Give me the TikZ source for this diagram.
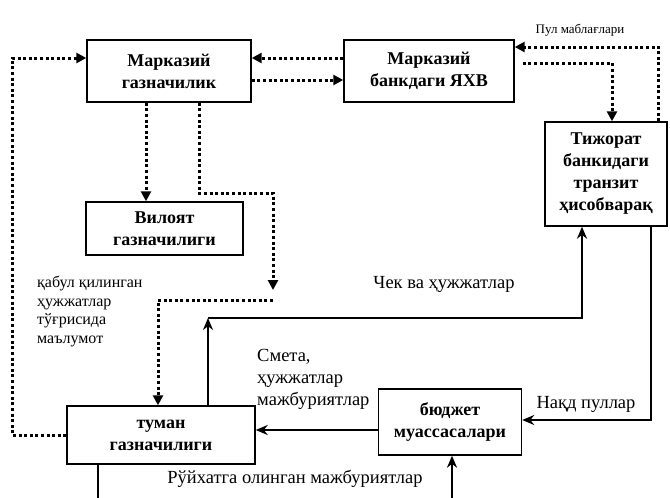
\documentclass[tikz,border=0pt]{standalone}
\usepackage{fontspec}
\setmainfont{Liberation Serif}
\usetikzlibrary{arrows.meta}

\tikzset{
  box/.style={draw, line width=1.4pt, align=center, inner sep=0pt,
    font=\fontsize{18}{22}\selectfont\bfseries},
  lbl/.style={inner sep=0pt, font=\fontsize{18.5}{22}\selectfont},
  dotarrow/.style={line width=3pt, dash pattern=on 3pt off 2.6pt,
    -{Triangle[length=10pt,width=10pt]}},
  solidline/.style={line width=2.2pt},
  solidarrow/.style={line width=2.2pt, -{Stealth[length=12pt,width=10pt]}},
}

\begin{document}
\begin{tikzpicture}[x=1pt,y=-1pt]
\useasboundingbox (0,0) rectangle (670,498);

\node[box, minimum width=164pt, minimum height=62pt] (mg) at (169,71) {Марказий\\газначилик};
\node[box, minimum width=170pt, minimum height=62pt] (bank) at (429,71) {Марказий\\банкдаги ЯХВ};
\node[box, minimum width=122pt, minimum height=104pt] (tij) at (606,174) {Тижорат\\банкидаги\\транзит\\ҳисобварақ};
\node[box, minimum width=157pt, minimum height=53pt] (vil) at (164.5,228.5) {Вилоят\\газначилиги};
\node[box, minimum width=188pt, minimum height=58pt] (tuman) at (161,435) {туман\\газначилиги};
\node[box, minimum width=143pt, minimum height=66pt] (budget) at (450,422) {бюджет\\муассасалари};

\node[lbl, font=\fontsize{13}{15}\selectfont] (pul) at (580,30) {Пул маблағлари};
\node[lbl] (chek) at (444,284) {Чек ва ҳужжатлар};
\node[lbl, align=left, anchor=north west, font=\fontsize{16}{18.5}\selectfont] (info) at (37,276) {қабул қилинган\\ҳужжатлар\\тўғрисида\\маълумот};
\node[lbl, align=left, anchor=north west] (smeta) at (257,349) {Смета,\\ҳужжатлар\\мажбуриятлар};
\node[lbl] (naqd) at (586,404) {Нақд пуллар};
\node[lbl] (ruyxat) at (295,479) {Рўйхатга олинган мажбуриятлар};

\coordinate (gapend) at (273,290);
\coordinate (gapstart) at (273,300);
\coordinate (chekturn) at (208,318);
\coordinate (bot1) at (98,498);
\coordinate (bot2) at (452,498);

% dotted flows
\draw[dotarrow] (tuman.west) -| (12,58) -- ([yshift=13pt]mg.west);
\draw[dotarrow] ([yshift=13pt]bank.west) -- ([yshift=13pt]mg.east);
\draw[dotarrow] ([yshift=-9pt]mg.east) -- ([yshift=-9pt]bank.west);
\draw[dotarrow] ([xshift=-9pt]tij.north east) |- ([yshift=24pt]bank.east);
\draw[dotarrow] ([xshift=8pt,yshift=8pt]bank.east) -| ([xshift=6pt]tij.north);
\draw[dotarrow] ([xshift=-23pt]mg.south) -- ([xshift=-23pt]mg.south |- vil.north);
\draw[dotarrow] ([xshift=30pt]mg.south) |- (gapend |- 0,193) -- (gapend);
\draw[dotarrow] (gapstart) -| ([xshift=-3pt]tuman.north);

% solid flows
\draw[solidarrow] (tuman.north -| chekturn) -- (chekturn);
\draw[solidarrow] (chekturn) -| ([xshift=-24pt]tij.south);
\draw[solidarrow] ([xshift=-17pt]tij.south east) |- ([yshift=2pt]budget.east);
\draw[solidarrow] ([yshift=-8pt]budget.west) -- ([yshift=-8pt]budget.west -| tuman.east);
\draw[solidline] (tuman.south -| bot1) -- (bot1);
\draw[solidarrow] (bot2) -- (bot2 |- budget.south);
\end{tikzpicture}
\end{document}
